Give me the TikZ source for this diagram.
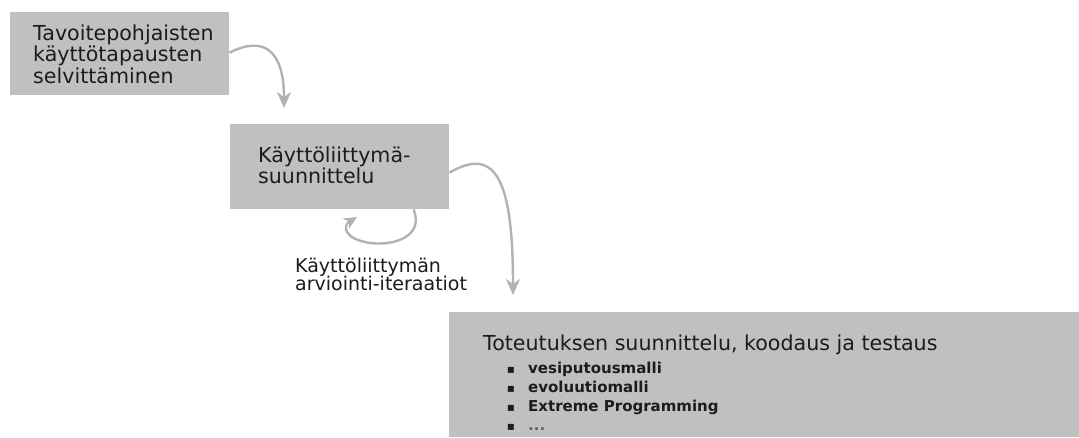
\documentclass[tikz,border=0pt]{standalone}
\usepackage{fontspec}
\setmainfont{DejaVu Sans}
\usetikzlibrary{arrows.meta}
\definecolor{boxgray}{RGB}{192,192,192}
\definecolor{arrgray}{RGB}{178,178,178}
\definecolor{txtcol}{RGB}{28,28,28}
\begin{document}
\begin{tikzpicture}[x=1pt,y=-1pt,
  box/.style={fill=boxgray, draw=none, inner sep=0pt, anchor=north west},
  boxtext/.style={anchor=base west, inner sep=0pt, text=txtcol, font=\fontsize{20.6}{21}\selectfont},
  labtext/.style={anchor=base west, inner sep=0pt, text=txtcol, font=\fontsize{19}{19}\selectfont},
  bultext/.style={anchor=base west, inner sep=0pt, text=txtcol, font=\fontsize{15}{16}\selectfont\bfseries},
  bulmark/.style={anchor=base, inner sep=0pt, text=txtcol, font=\fontsize{12}{14}\selectfont},
  arr/.style={draw=arrgray, line width=2.4pt, -{Stealth[length=16pt,width=14pt,inset=5pt]}},
  arrsmall/.style={draw=arrgray, line width=2.4pt, -{Stealth[length=13pt,width=12pt,inset=4pt]}}
]
\useasboundingbox (0,0) rectangle (1079,437);
% boxes
\node[box, minimum width=219pt, minimum height=83pt] (b1) at (10,12) {};
\node[box, minimum width=219pt, minimum height=85pt] (b2) at (230,124) {};
\node[box, minimum width=630pt, minimum height=125pt] (b3) at (449,312) {};
% box 1 text
\node[boxtext] (t1a) at (33,40) {Tavoitepohjaisten};
\node[boxtext] (t1b) at (33,61.5) {käyttötapausten};
\node[boxtext] (t1c) at (33,83) {selvittäminen};
% box 2 text
\node[boxtext] (t2a) at (258,162) {Käyttöliittymä-};
\node[boxtext] (t2b) at (258,183) {suunnittelu};
% box 3 text
\node[boxtext] (t3h) at (483,350) {Toteutuksen suunnittelu, koodaus ja testaus};
\node[bulmark] (m1) at (511,373) {▪};
\node[bulmark] (m2) at (511,392) {▪};
\node[bulmark] (m3) at (511,411) {▪};
\node[bulmark] (m4) at (511,430) {▪};
\node[bultext] (l1) at (528,373) {vesiputousmalli};
\node[bultext] (l2) at (528,392) {evoluutiomalli};
\node[bultext] (l3) at (528,411) {Extreme Programming};
\node[bultext, text=txtcol!70] (l4) at (528,430) {...};
% loop label
\node[labtext] (la) at (295,272) {Käyttöliittymän};
\node[labtext] (lb) at (295,290) {arviointi-iteraatiot};
% connectors
\coordinate (e1) at (284,108);
\coordinate (e2) at (513,295);
\coordinate (e3) at (357,217);
\draw[arr] ([yshift=1pt]b1.east) .. controls (262,36) and (284,48) .. (e1);
\draw[arr] ([yshift=-6pt]b2.east) .. controls (495,146) and (513,178) .. (e2);
\draw[arrsmall] ([xshift=74pt]b2.south) .. controls (424,236) and (395,246) .. (370,243)
   .. controls (344,239) and (342,226) .. (e3);
\end{tikzpicture}
\end{document}
